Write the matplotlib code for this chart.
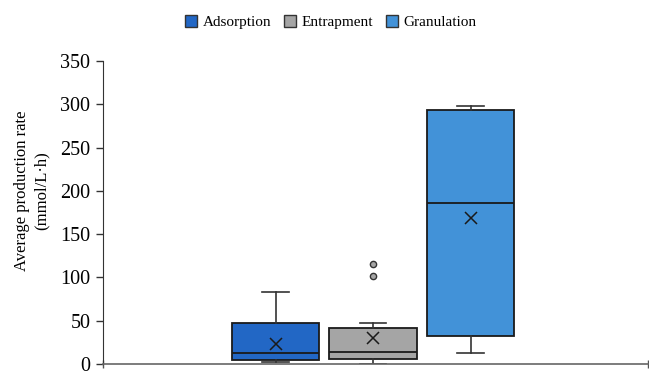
import matplotlib
matplotlib.use("Agg")
import matplotlib.pyplot as plt
from matplotlib.patches import Patch

plt.rcParams['font.family'] = ['Liberation Serif', 'DejaVu Serif']

# Summary statistics per immobilisation method (mmol/L·h)
methods = ["Adsorption", "Entrapment", "Granulation"]
whisker_low = [2.7, 0.5, 13.0]
q1 = [4.6, 5.4, 32.7]
medians = [12.4, 14.2, 186.0]
q3 = [47.0, 42.0, 293.0]
whisker_high = [82.8, 47.7, 298.0]
means = [22.7, 29.7, 168.3]
outliers = [[], [101.7, 115.5], []]
colors = ["#2267C5", "#A5A5A5", "#4292D8"]
yticks = [0, 50, 100, 150, 200, 250, 300, 350]

stats = []
for i, name in enumerate(methods):
    stats.append(dict(label=name, whislo=whisker_low[i], q1=q1[i], med=medians[i],
                      q3=q3[i], whishi=whisker_high[i], mean=means[i],
                      fliers=outliers[i]))

fig = plt.figure(figsize=(6.49, 3.71), dpi=100)
ax = fig.add_axes([103 / 649, 1 - 364 / 371, 545 / 649, 303 / 371])

positions = [0, 1, 2]
bp = ax.bxp(stats, positions=positions, widths=0.9, patch_artist=True,
            showmeans=True, meanline=False, showfliers=True,
            boxprops=dict(edgecolor="#1a1a1a", linewidth=1.3),
            medianprops=dict(color="#1a1a1a", linewidth=1.3),
            whiskerprops=dict(color="#333333", linewidth=1.2),
            capprops=dict(color="#333333", linewidth=1.2),
            capwidths=0.27,
            meanprops=dict(marker="x", markeredgecolor="#1a1a1a",
                           markersize=8.5, markeredgewidth=1.1),
            flierprops=dict(marker="o", markerfacecolor="#A5A5A5",
                            markeredgecolor="#333333", markersize=4.5,
                            markeredgewidth=1.0))
for patch, c in zip(bp["boxes"], colors):
    patch.set_facecolor(c)

ax.set_xlim(-1.77, 3.82)
ax.set_ylim(0, 350)
ax.set_yticks(yticks)
ax.set_yticklabels([str(v) for v in yticks], fontsize=14.5)
ax.set_xticks([-1.77, 3.82])
ax.set_xticklabels([])
ax.tick_params(axis="y", direction="out", length=5, width=1, color="#333333", pad=4)
ax.tick_params(axis="x", direction="inout", length=6, width=1, color="#555555")
for s in ["top", "right"]:
    ax.spines[s].set_visible(False)
ax.spines["left"].set_color("#333333")
ax.spines["bottom"].set_color("#666666")
ax.spines["bottom"].set_linewidth(1.2)

ax.set_ylabel("Average production rate\n(mmol/L·h)", fontsize=12, linespacing=1.35)
ax.yaxis.set_label_coords(-0.097, 0.572)

handles = [Patch(facecolor=c, edgecolor="#333333", linewidth=1.0) for c in colors]
fig.legend(handles, methods, loc="center", bbox_to_anchor=(0.51, 0.94), ncol=3,
           frameon=False, fontsize=11, handlelength=0.8, handleheight=0.8,
           handletextpad=0.35, columnspacing=0.85)

fig.savefig("out.png", dpi=100)
